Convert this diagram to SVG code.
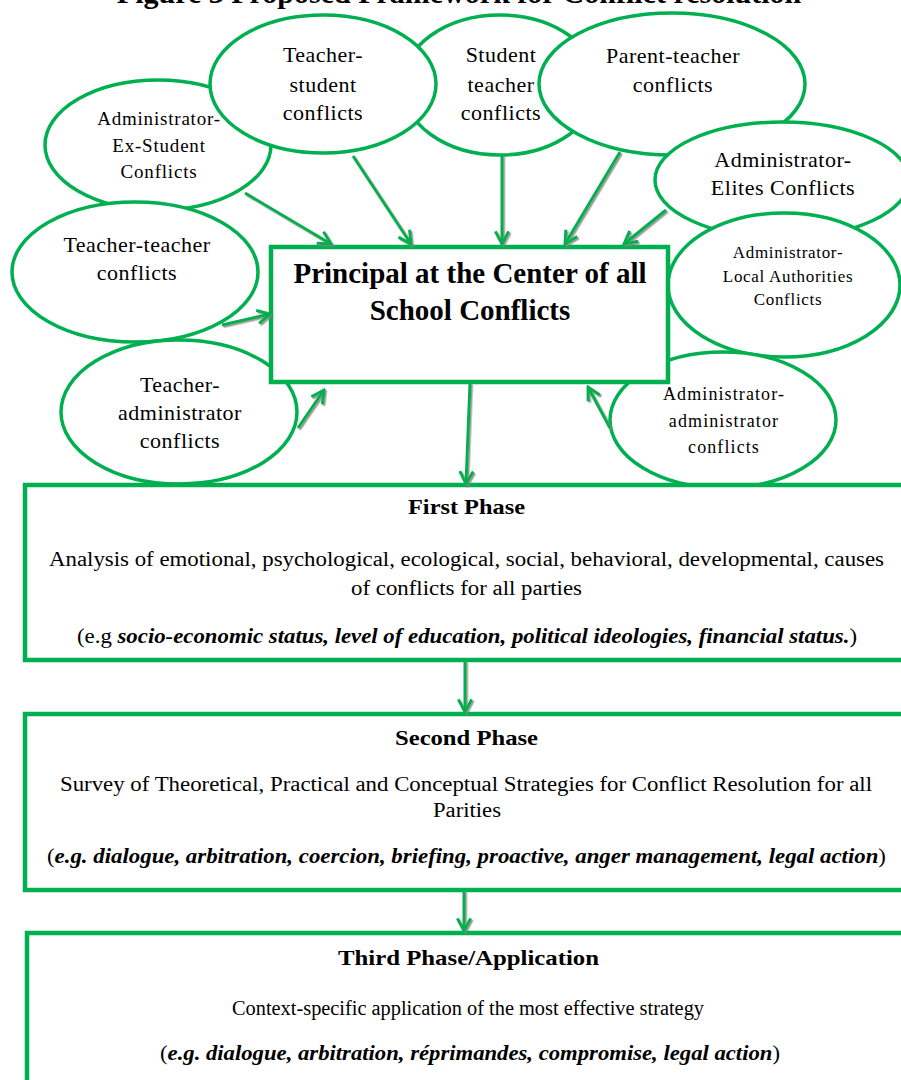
<svg xmlns="http://www.w3.org/2000/svg" width="901" height="1080" viewBox="0 0 901 1080">
<style>
  .ell { fill: #ffffff; stroke: #00B050; stroke-width: 3.5; }
  .box { fill: #ffffff; stroke: #00B050; stroke-width: 4.5; }
  .t { font-family: "Liberation Serif", "Times New Roman", serif; fill: #000; text-anchor: middle; }
  .e22 { font-size: 22px; letter-spacing: 0.5px; }
  .exs { font-size: 19px; letter-spacing: 0.8px; }
  .loc { font-size: 17px; letter-spacing: 0.7px; }
  .aa { font-size: 18px; letter-spacing: 1.1px; }
  .hd { font-size: 21px; font-weight: bold; }
  .bd { font-size: 20px; }
  .bi { font-weight: bold; font-style: italic; }
  .conn line { stroke: #00B050; stroke-width: 3; marker-end: url(#arr); filter: url(#sh); }
</style>
<defs>
  <filter id="sh" filterUnits="userSpaceOnUse" x="0" y="0" width="901" height="1080">
    <feDropShadow dx="1.5" dy="1.5" stdDeviation="0.6" flood-color="#808080" flood-opacity="0.8"/>
  </filter>
  <marker id="arr" viewBox="0 0 12 12" refX="10.5" refY="6" markerWidth="16" markerHeight="16" markerUnits="userSpaceOnUse" orient="auto">
    <path d="M1,1 L10.5,6 L1,11" fill="none" stroke="#00B050" stroke-width="2.2" stroke-linejoin="miter"/>
  </marker>
</defs>
<rect width="901" height="1080" fill="#ffffff"/>

<text class="t" x="459" y="3" font-size="30" font-weight="bold">Figure 3 Proposed Framework for Conflict resolution</text>

<g id="n-admin-exstudent">
  <ellipse class="ell" cx="158" cy="145" rx="113" ry="65"/>
  <text class="t exs" x="159" y="125">Administrator-</text>
  <text class="t exs" x="159" y="152">Ex-Student</text>
  <text class="t exs" x="159" y="178">Conflicts</text>
</g>
<g id="n-student-teacher">
  <ellipse class="ell" cx="500" cy="85" rx="98" ry="70"/>
  <text class="t e22" x="501" y="62">Student</text>
  <text class="t e22" x="501" y="92">teacher</text>
  <text class="t e22" x="501" y="120">conflicts</text>
</g>
<g id="n-teacher-student">
  <ellipse class="ell" cx="323" cy="84" rx="113" ry="69"/>
  <text class="t e22" x="323" y="62">Teacher-</text>
  <text class="t e22" x="323" y="92">student</text>
  <text class="t e22" x="323" y="120">conflicts</text>
</g>
<g id="n-parent-teacher">
  <ellipse class="ell" cx="672" cy="84" rx="133" ry="71"/>
  <text class="t e22" x="673" y="63">Parent-teacher</text>
  <text class="t e22" x="673" y="92">conflicts</text>
</g>
<g id="n-admin-elites">
  <ellipse class="ell" cx="782" cy="180" rx="127" ry="58"/>
  <text class="t e22" x="783" y="167">Administrator-</text>
  <text class="t e22" x="783" y="195">Elites Conflicts</text>
</g>
<g id="n-admin-local">
  <ellipse class="ell" cx="784" cy="285" rx="116" ry="72"/>
  <text class="t loc" x="788" y="258">Administrator-</text>
  <text class="t loc" x="788" y="282">Local Authorities</text>
  <text class="t loc" x="788" y="305">Conflicts</text>
</g>
<g id="n-teacher-teacher">
  <ellipse class="ell" cx="135" cy="272" rx="123" ry="70"/>
  <text class="t e22" x="137" y="252">Teacher-teacher</text>
  <text class="t e22" x="137" y="280">conflicts</text>
</g>
<g id="n-teacher-admin">
  <ellipse class="ell" cx="179" cy="412" rx="118" ry="72"/>
  <text class="t e22" x="180" y="392">Teacher-</text>
  <text class="t e22" x="180" y="420">administrator</text>
  <text class="t e22" x="180" y="448">conflicts</text>
</g>
<g id="n-admin-admin">
  <ellipse class="ell" cx="723" cy="420" rx="113" ry="68"/>
  <text class="t aa" x="724" y="400">Administrator-</text>
  <text class="t aa" x="724" y="427">administrator</text>
  <text class="t aa" x="724" y="453">conflicts</text>
</g>

<g id="n-principal">
  <rect class="box" x="271" y="247" width="397" height="135"/>
  <text class="t" x="470" y="283" font-size="29" font-weight="bold">Principal at the Center of all</text>
  <text class="t" x="470" y="320" font-size="29" font-weight="bold">School Conflicts</text>
</g>

<g id="n-phase1">
  <rect class="box" x="25" y="485" width="895" height="175"/>
  <text class="t hd" x="466.5" y="514" textLength="117" lengthAdjust="spacingAndGlyphs">First Phase</text>
  <text class="t bd" x="466.5" y="566" textLength="835" lengthAdjust="spacingAndGlyphs">Analysis of emotional, psychological, ecological, social, behavioral, developmental, causes</text>
  <text class="t bd" x="466.5" y="595" textLength="231" lengthAdjust="spacingAndGlyphs">of conflicts for all parties</text>
  <text class="t bd" x="467" y="643" textLength="780" lengthAdjust="spacingAndGlyphs">(e.g <tspan class="bi">socio-economic status, level of education, political ideologies, financial status.</tspan>)</text>
</g>
<g id="n-phase2">
  <rect class="box" x="25" y="714" width="895" height="176"/>
  <text class="t hd" x="466.5" y="745" textLength="143" lengthAdjust="spacingAndGlyphs">Second Phase</text>
  <text class="t bd" x="466" y="791" textLength="812" lengthAdjust="spacingAndGlyphs">Survey of Theoretical, Practical and Conceptual Strategies for Conflict Resolution for all</text>
  <text class="t bd" x="467" y="817" textLength="68" lengthAdjust="spacingAndGlyphs">Parities</text>
  <text class="t bd" x="466.5" y="863" textLength="839" lengthAdjust="spacingAndGlyphs">(<tspan class="bi">e.g. dialogue, arbitration, coercion, briefing, proactive, anger management, legal action</tspan>)</text>
</g>
<g id="n-phase3">
  <rect class="box" x="27" y="933" width="895" height="200"/>
  <text class="t hd" x="468.5" y="965" textLength="261" lengthAdjust="spacingAndGlyphs">Third Phase/Application</text>
  <text class="t bd" x="468" y="1015" textLength="472" lengthAdjust="spacingAndGlyphs">Context-specific application of the most effective strategy</text>
  <text class="t bd" x="470" y="1060" textLength="620" lengthAdjust="spacingAndGlyphs">(<tspan class="bi">e.g. dialogue, arbitration, réprimandes, compromise, legal action</tspan>)</text>
</g>

<g id="connectors" class="conn">
  <line x1="245" y1="193" x2="331" y2="244"/>
  <line x1="353" y1="156" x2="411" y2="244"/>
  <line x1="502" y1="155" x2="502" y2="244"/>
  <line x1="620" y1="152" x2="565" y2="244"/>
  <line x1="666" y1="210" x2="624" y2="244"/>
  <line x1="222" y1="325" x2="270" y2="314"/>
  <line x1="298" y1="428" x2="324" y2="390"/>
  <line x1="610" y1="428" x2="588" y2="387"/>
  <line x1="470" y1="383" x2="466" y2="484"/>
  <line x1="465" y1="661" x2="465" y2="712"/>
  <line x1="464" y1="891" x2="464" y2="931"/>
</g>
</svg>
